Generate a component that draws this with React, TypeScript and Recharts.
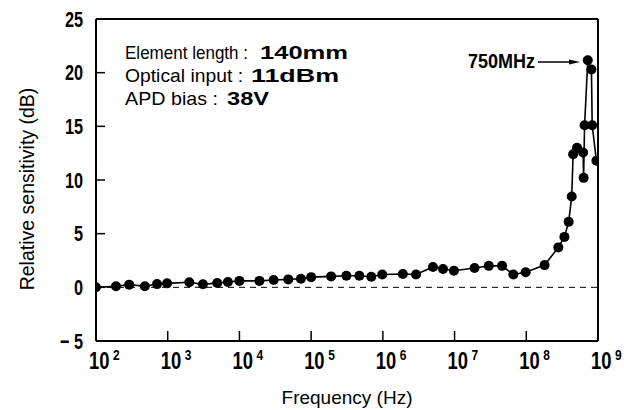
import React from "react";
import { LineChart, Line, XAxis, YAxis, ReferenceLine } from "recharts";

// Frequency (Hz) of each measured point
const frequencies = [
  100, 190, 290, 480, 710, 980, 2000, 3100, 4900, 6900,
  1.0e4, 1.9e4, 3.0e4, 4.8e4, 7.2e4, 1.0e5, 1.9e5, 3.1e5, 4.7e5, 6.9e5,
  9.8e5, 1.9e6, 2.9e6, 5.0e6, 6.9e6, 9.8e6, 1.9e7, 3.0e7, 4.6e7, 6.6e7,
  9.8e7, 1.8e8, 2.8e8, 3.4e8, 3.9e8, 4.3e8, 4.5e8, 5.1e8, 6.2e8, 6.3e8,
  6.5e8, 7.2e8, 8.1e8, 8.3e8, 9.5e8,
];
// Relative sensitivity (dB)
const sensitivities = [
  0, 0.1, 0.25, 0.1, 0.3, 0.37, 0.47, 0.28, 0.4, 0.5,
  0.6, 0.6, 0.68, 0.74, 0.8, 0.95, 1.02, 1.08, 1.08, 0.98,
  1.2, 1.24, 1.2, 1.9, 1.7, 1.55, 1.8, 2.0, 2.0, 1.2,
  1.4, 2.07, 3.72, 4.7, 6.1, 8.47, 12.4, 13.0, 12.56, 10.2,
  15.1, 21.15, 20.3, 15.1, 11.8,
];

const xTicks = [1e2, 1e3, 1e4, 1e5, 1e6, 1e7, 1e8, 1e9];
const xTickExponents = ["2", "3", "4", "5", "6", "7", "8", "9"];
const yTicks = [-5, 0, 5, 10, 15, 20, 25];
const yTickLabels = ["\u2212 5", "0", "5", "10", "15", "20", "25"];

const annotationLabels = ["Element length :", "Optical input :", "APD bias :"];
const annotationValues = ["140mm", "11dBm", "38V"];
const peakLabel = "750MHz";
const xAxisTitle = "Frequency (Hz)";
const yAxisTitle = "Relative sensitivity (dB)";

const data = frequencies.map((f, i) => ({ f, db: sensitivities[i] }));

const FONT = "'Liberation Sans', Arial, sans-serif";

// layout of the annotation block (pixels)
const annoLayout = [
  { y: 59, labelLen: 123, valueX: 260, valueLen: 88 },
  { y: 82, labelLen: 118, valueX: 251, valueLen: 88 },
  { y: 105, labelLen: 93, valueX: 227, valueLen: 42 },
];

const XTick = (props: any) => {
  const { x, y, payload, index } = props;
  const i = xTicks.indexOf(payload.value);
  const inner = i > 0 && i < xTicks.length - 1;
  return (
    <g>
      {inner && <line x1={x} y1={y} x2={x} y2={y - 10} stroke="#000" strokeWidth={1.5} />}
      <g transform={`translate(${x - 7},${y + 28})`}>
        <text transform="scale(0.8,1)" x={0} y={0} fontSize={23} fontWeight="bold" fontFamily={FONT} fill="#000">
          10
        </text>
      </g>
      <g transform={`translate(${x + 17},${y + 19})`}>
        <text transform="scale(0.8,1)" x={0} y={0} fontSize={15} fontWeight="bold" fontFamily={FONT} fill="#000">
          {xTickExponents[i >= 0 ? i : index]}
        </text>
      </g>
    </g>
  );
};

const YTick = (props: any) => {
  const { x, y, payload } = props;
  const i = yTicks.indexOf(payload.value);
  const inner = i > 0 && i < yTicks.length - 1;
  return (
    <g>
      {inner && <line x1={x} y1={y} x2={x + 9} y2={y} stroke="#000" strokeWidth={1.5} />}
      <g transform={`translate(${x - 13},${y + 7.5})`}>
        <text transform="scale(0.74,1)" x={0} y={0} textAnchor="end" fontSize={22} fontWeight="bold" fontFamily={FONT} fill="#000">
          {yTickLabels[i]}
        </text>
      </g>
    </g>
  );
};

export default function App() {
  return (
    <div style={{ position: "absolute", left: 0, top: 0, width: 624, height: 410, background: "#fff" }}>
      <LineChart width={624} height={410} data={data} margin={{ top: 19, right: 26, bottom: 0, left: 0 }}>
        <XAxis
          type="number"
          dataKey="f"
          scale="log"
          domain={[100, 1e9]}
          ticks={xTicks}
          interval={0}
          allowDataOverflow
          height={69}
          tickSize={0}
          tickMargin={0}
          tickLine={false}
          axisLine={{ stroke: "#000", strokeWidth: 2 }}
          tick={(p: any) => <XTick {...p} />}
        />
        <YAxis
          type="number"
          domain={[-5, 25]}
          ticks={yTicks}
          interval={0}
          allowDataOverflow
          width={96}
          tickSize={0}
          tickMargin={0}
          tickLine={false}
          axisLine={{ stroke: "#000", strokeWidth: 2 }}
          tick={(p: any) => <YTick {...p} />}
        />
        <ReferenceLine y={25} stroke="#000" strokeWidth={2} />
        <ReferenceLine x={1e9} stroke="#000" strokeWidth={2} />
        <ReferenceLine y={0} stroke="#000" strokeWidth={1} strokeDasharray="6 5" />
        <Line
          type="linear"
          dataKey="db"
          stroke="#000"
          strokeWidth={1.6}
          dot={{ r: 5, fill: "#000", stroke: "#000", strokeWidth: 0 }}
          isAnimationActive={false}
        />
      </LineChart>
      <svg
        width={624}
        height={410}
        style={{ position: "absolute", left: 0, top: 0, pointerEvents: "none" }}
      >
        {annotationLabels.map((label, i) => (
          <g key={i}>
            <text
              x={125}
              y={annoLayout[i].y}
              fontSize={19}
              fontFamily={FONT}
              fill="#000"
              textLength={annoLayout[i].labelLen}
              lengthAdjust="spacingAndGlyphs"
            >
              {label}
            </text>
            <text
              x={annoLayout[i].valueX}
              y={annoLayout[i].y}
              fontSize={19}
              fontWeight="bold"
              fontFamily={FONT}
              fill="#000"
              textLength={annoLayout[i].valueLen}
              lengthAdjust="spacingAndGlyphs"
            >
              {annotationValues[i]}
            </text>
          </g>
        ))}
        <g transform="translate(535,68)">
          <text transform="scale(0.9,1)" x={0} y={0} textAnchor="end" fontSize={20} fontWeight="bold" fontFamily={FONT} fill="#000">
            {peakLabel}
          </text>
        </g>
        <line x1={538} y1={62} x2={572} y2={62} stroke="#000" strokeWidth={1.5} />
        <polygon points="569,59.5 580,62 569,64.5" fill="#000" />
        <text x={347} y={404} textAnchor="middle" fontSize={19} fontFamily={FONT} fill="#000">
          {xAxisTitle}
        </text>
        <text
          transform="translate(34,189) rotate(-90)"
          x={0}
          y={0}
          textAnchor="middle"
          fontSize={19.5}
          fontFamily={FONT}
          fill="#000"
        >
          {yAxisTitle}
        </text>
      </svg>
    </div>
  );
}
